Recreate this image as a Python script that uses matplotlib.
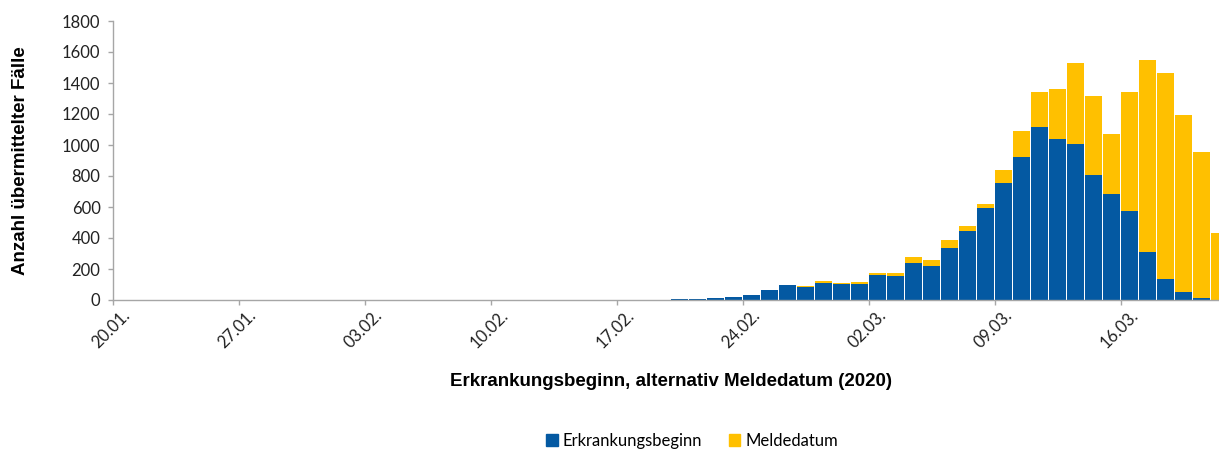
import numpy as np
import pandas as pd
import matplotlib
matplotlib.use("Agg")
import matplotlib.pyplot as plt
from matplotlib.patches import Rectangle
from matplotlib.transforms import ScaledTranslation

# Tage 20.01. bis 21.03.2020
dates = pd.date_range("2020-01-20", "2020-03-21", freq="D")
labels = [d.strftime("%d.%m.") for d in dates]

# Erkrankungsbeginn (blau)
erkrankung = [0] * 31 + [
    8, 9, 15, 21, 34, 62, 97, 86, 112, 103, 103,
    161, 155, 237, 219, 338, 447, 596, 753, 925, 1114,
    1039, 1004, 804, 682, 576, 307, 138, 50, 15, 0,
]
# Meldedatum (gelb)
melde = [0] * 31 + [
    0, 0, 0, 0, 0, 0, 0, 6, 8, 5, 11,
    12, 19, 43, 41, 51, 30, 23, 86, 165, 228,
    320, 525, 514, 389, 766, 1239, 1327, 1146, 940, 430,
]

blau = "#0459A2"
gelb = "#FFC000"
grau = "#A6A6A6"

fig = plt.figure(figsize=(12.19, 4.50), dpi=100)
ax = fig.add_axes([112.5 / 1219, 150 / 450, 1116 / 1219, 279 / 450])

x = np.arange(len(dates))
ax.bar(x, erkrankung, width=0.89, color=blau, linewidth=0)
ax.bar(x, melde, width=0.89, bottom=erkrankung, color=gelb, linewidth=0)

ax.set_xlim(-0.5, len(dates) - 0.5)
ax.set_ylim(0, 1800)
ax.set_yticks(range(0, 1801, 200))

for s in ["top", "right"]:
    ax.spines[s].set_visible(False)
for s in ["left", "bottom"]:
    ax.spines[s].set_color(grau)
    ax.spines[s].set_linewidth(1.0)

ax.tick_params(axis="x", length=3.6, width=1, color=grau, pad=0,
               labelsize=12, labelfontfamily="Lato", labelcolor="#222222")
ax.tick_params(axis="y", length=3.6, width=1, color=grau, pad=5,
               labelsize=12, labelfontfamily="Lato", labelcolor="#222222")

# Ticks an den Kategoriegrenzen, alle 7 Tage
tick_idx = list(range(0, len(dates), 7))
ax.set_xticks([i - 0.5 for i in tick_idx])
ax.set_xticklabels([labels[i] for i in tick_idx], rotation=45, ha="right",
                   va="center", rotation_mode="anchor")
for lab in ax.get_xticklabels():
    lab.set_transform(lab.get_transform() + ScaledTranslation(0.15, -0.075, fig.dpi_scale_trans))

ax.set_xlabel("Erkrankungsbeginn, alternativ Meldedatum (2020)",
              fontfamily="Liberation Sans", fontweight="bold", fontsize=13.5, va="center")
ax.xaxis.set_label_coords(0.5, -81 / 279)
ax.set_ylabel("Anzahl übermittelter Fälle",
              fontfamily="Liberation Sans", fontweight="bold", fontsize=13.5, va="center")
ax.yaxis.set_label_coords(-91.5 / 1116, 0.5)

handles = [Rectangle((0, 0), 1, 1, color=blau), Rectangle((0, 0), 1, 1, color=gelb)]
fig.legend(handles, ["Erkrankungsbeginn", "Meldedatum"], loc="center",
           bbox_to_anchor=(692 / 1219, 1 - 441 / 450), ncol=2, frameon=False,
           handlelength=0.7, handleheight=0.7, handletextpad=0.3, columnspacing=1.6,
           prop={"family": "Lato", "size": 12})

fig.savefig("out.png", dpi=100)
